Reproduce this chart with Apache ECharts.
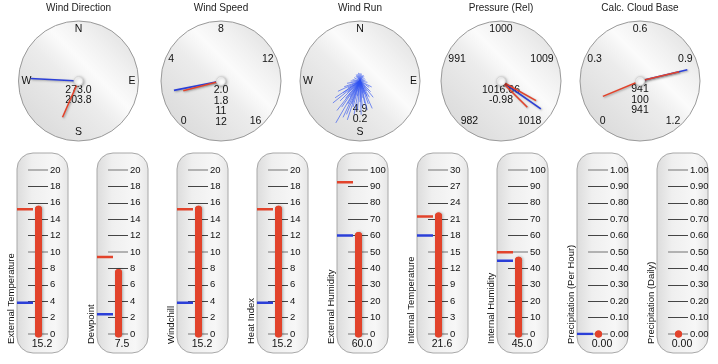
<!DOCTYPE html>
<html><head><meta charset="utf-8">
<script src="https://cdn.jsdelivr.net/npm/echarts@6/dist/echarts.min.js"></script>
<style>html,body{margin:0;padding:0;background:#fff}#c{width:718px;height:364px}</style>
</head><body><div id="c"></div>
<script>
// ---------- data ----------
const dialTitles = ['Wind Direction', 'Wind Speed', 'Wind Run', 'Pressure (Rel)', 'Calc. Cloud Base'];
const compassLabels = ['N', 'E', 'S', 'W'];
const speedTicks = [0, 4, 8, 12, 16];
const pressureTicks = [982, 991, 1000, 1009, 1018];
const cloudTicks = [0, 0.3, 0.6, 0.9, 1.2];

const windDirection = [273.0, 203.8];          // current, average
const windSpeed = [2.0, 1.8, 11, 12];           // current, average, gust, max
const windRunTotals = [4.9, 0.2];
const runBearings = [210, 205, 198, 231, 236, 156, 141, 117, 20, 180, 195, 166, 168, 225, 215, 220, 245, 250, 260, 270,
  190, 185, 175, 160, 150, 135, 125, 100, 80, 200, 212, 228, 240, 172, 162, 145, 300, 330, 350, 10, 40, 60, 280, 202, 208,
  188, 218, 235, 155, 178, 320, 0, 30, 340];
const runSpeeds = [12.9, 10.7, 10.9, 9.3, 8.0, 8.0, 5.6, 3.5, 1.6, 5.6, 7.2, 8.0, 6.1, 7.5, 8.5, 6.0, 6.5, 4.5, 3.5, 2.5,
  9.0, 7.8, 6.8, 6.5, 5.0, 4.0, 3.0, 2.0, 1.5, 6.5, 5.0, 4.5, 3.8, 4.5, 3.5, 3.2, 1.8, 2.0, 2.2, 2.0, 1.6, 1.4, 2.0, 9.6, 7.0,
  4.0, 10.0, 5.5, 4.5, 9.0, 1.7, 2.1, 1.8, 1.9];
const pressure = [1016.66, -0.98];
const pressureMarks = [1015.9, 1018.3];
const cloudBase = [941, 100, 941];              // metres

const thermNames = ['External Temperature', 'Dewpoint', 'Windchill', 'Heat Index', 'External Humidity',
  'Internal Temperature', 'Internal Humidity', 'Precipitation (Per Hour)', 'Precipitation (Daily)'];
const thermValues = [15.2, 7.5, 15.2, 15.2, 60.0, 21.6, 45.0, 0.00, 0.00];
const thermHigh = [15.2, 9.4, 15.2, 15.2, 92.5, 21.5, 49.8, null, null];
const thermLow = [3.8, 2.4, 3.8, 3.8, 60.0, 18.0, 44.7, 0.00, null];
const thermMax = [20, 20, 20, 20, 100, 30, 100, 1, 1];
const thermLabelDigits = [0, 0, 0, 0, 0, 0, 0, 2, 2];
const thermValueDigits = [1, 1, 1, 1, 1, 1, 1, 2, 2];

// ---------- layout / style ----------
const FONT = '"Liberation Sans", Arial, Helvetica, sans-serif';
const RED = '#e2432b', BLUE = '#2b3fd8';
const dialCX = [78.5, 221, 360, 501, 640], dialCY = 81, dialR = 60;
const thermLeft = i => 17 + 80 * i;
const TH_TOP = 153, TH_H = 200, TH_W = 51, SC_TOP = 170, SC_H = 164, SC_W = 31;
const BAR_X = 21.5, MARK_END = 16;

const chart = echarts.init(document.getElementById('c'));
const series = [], graphic = [], grids = [], xAxes = [], yAxes = [];

// dial faces & titles
dialCX.forEach((cx, i) => {
  graphic.push({
    type: 'circle', z: 0, shape: { cx: cx, cy: dialCY, r: dialR },
    style: {
      fill: new echarts.graphic.LinearGradient(0.1, 0.9, 0.9, 0.1, [
        { offset: 0, color: '#dadada' }, { offset: 0.45, color: '#ececec' }, { offset: 0.62, color: '#fbfbfb' },
        { offset: 0.8, color: '#f0f0f0' }, { offset: 1, color: '#e2e2e2' }]),
      stroke: '#9a9a9a', lineWidth: 1
    }
  });
  graphic.push({
    type: 'text', z: 1, x: cx, y: 8,
    style: { text: dialTitles[i], font: '10px ' + FONT, fill: '#222', align: 'center', verticalAlign: 'middle' }
  });
});

function face(i, min, max, start, end, fmt, lines, off) {
  return {
    type: 'gauge', center: [dialCX[i], dialCY], radius: dialR, startAngle: start, endAngle: end,
    min: min, max: max, splitNumber: 4, animation: false, silent: true,
    axisLine: { show: false, lineStyle: { width: 0 } }, axisTick: { show: false },
    splitLine: { show: false, length: 0, distance: 0 }, progress: { show: false },
    pointer: { show: false }, anchor: { show: false }, title: { show: false },
    axisLabel: { show: true, distance: 3, fontSize: 10.5, fontFamily: FONT, color: '#111', formatter: fmt },
    detail: {
      show: true, offsetCenter: [0, off], fontSize: 10.5, fontFamily: FONT, color: '#111', lineHeight: 10.5,
      fontWeight: 'normal', formatter: () => lines.join('\n')
    },
    data: [{ value: min }]
  };
}
function needle(i, min, max, start, end, value, color, len, hub) {
  return {
    type: 'gauge', center: [dialCX[i], dialCY], radius: dialR, startAngle: start, endAngle: end,
    min: min, max: max, animation: false, silent: true,
    axisLine: { show: false, lineStyle: { width: 0 } }, axisTick: { show: false }, splitLine: { show: false },
    axisLabel: { show: false }, title: { show: false }, detail: { show: false }, progress: { show: false },
    pointer: { show: true, icon: 'rect', width: 1.6, length: len, offsetCenter: [0, 0] },
    itemStyle: { color: color, shadowBlur: 2, shadowColor: 'rgba(0,0,0,0.3)', shadowOffsetX: 1, shadowOffsetY: 1 },
    anchor: hub ? {
      show: true, showAbove: true, size: 9, itemStyle: {
        color: '#fbfbfb', borderColor: '#d6d6d6', borderWidth: 1,
        shadowBlur: 3, shadowColor: 'rgba(0,0,0,0.3)', shadowOffsetX: 1, shadowOffsetY: 1
      }
    } : { show: false },
    data: [{ value: value }]
  };
}

// Wind direction
const compassFmt = v => v === 360 ? '' : compassLabels[Math.round(v / 90)];
series.push(face(0, 0, 360, 90, -270, compassFmt, windDirection.map(v => v.toFixed(1)), 14));
series.push(needle(0, 0, 360, 90, -270, windDirection[0], BLUE, '80%', false));
series.push(needle(0, 0, 360, 90, -270, windDirection[1], RED, '66%', true));
// Wind speed
series.push(face(1, speedTicks[0], speedTicks[4], 225, -45, v => String(v),
  [windSpeed[0].toFixed(1), windSpeed[1].toFixed(1), String(windSpeed[2]), String(windSpeed[3])], 25));
series.push(needle(1, speedTicks[0], speedTicks[4], 225, -45, windSpeed[0], BLUE, '80%', false));
series.push(needle(1, speedTicks[0], speedTicks[4], 225, -45, windSpeed[1], RED, '65%', true));
// Wind run
series.push(face(2, 0, 360, 90, -270, compassFmt, windRunTotals.map(v => v.toFixed(1)), 33));
// Pressure
series.push(face(3, pressureTicks[0], pressureTicks[4], 225, -45, v => String(v),
  [pressure[0].toFixed(2), pressure[1].toFixed(2)], 14));
series.push(needle(3, pressureTicks[0], pressureTicks[4], 225, -45, pressure[0], BLUE, '81%', false));
series.push(needle(3, pressureTicks[0], pressureTicks[4], 225, -45, pressureMarks[0], RED, '67%', false));
series.push(needle(3, pressureTicks[0], pressureTicks[4], 225, -45, pressureMarks[1], RED, '62%', true));
// Cloud base (axis in km, values in m)
series.push(face(4, cloudTicks[0], cloudTicks[4], 225, -45, v => v.toFixed(1).replace(/^0\.0$/, '0'),
  cloudBase.map(v => String(v)), 19));
series.push(needle(4, cloudTicks[0], cloudTicks[4], 225, -45, cloudBase[0] / 1000, BLUE, '81%', false));
series.push(needle(4, cloudTicks[0], cloudTicks[4], 225, -45, cloudBase[1] / 1000, RED, '67%', false));
series.push(needle(4, cloudTicks[0], cloudTicks[4], 225, -45, cloudBase[2] / 1000, RED, '67%', true));

// Wind run spokes (polar)
const polar = { center: [dialCX[2], dialCY], radius: dialR };
const angleAxis = { type: 'value', min: 0, max: 360, startAngle: 90, clockwise: true, show: false };
const radiusAxis = { type: 'value', min: 0, max: 16, show: false };
series.push({
  type: 'custom', coordinateSystem: 'polar', silent: true, animation: false, z: 3,
  data: runBearings.map((b, k) => [runSpeeds[k], b]),
  renderItem: (params, api) => {
    const p0 = api.coord([0, api.value(1)]);
    const p1 = api.coord([api.value(0), api.value(1)]);
    return {
      type: 'line', shape: { x1: p0[0], y1: p0[1], x2: p1[0], y2: p1[1] },
      style: { stroke: 'rgba(45,80,240,0.7)', lineWidth: 0.9 }
    };
  }
});

// thermometers
thermNames.forEach((name, i) => {
  const L = thermLeft(i), M = thermMax[i];
  graphic.push({
    type: 'rect', z: 0, shape: { x: L, y: TH_TOP, width: TH_W, height: TH_H, r: 16 },
    style: {
      fill: new echarts.graphic.LinearGradient(0, 0, 1, 0, [
        { offset: 0, color: '#dcdcdc' }, { offset: 0.3, color: '#efefef' }, { offset: 0.75, color: '#f7f7f7' },
        { offset: 1, color: '#e6e6e6' }]),
      stroke: '#a8a8a8', lineWidth: 1
    }
  });
  graphic.push({
    type: 'text', z: 1, x: L + 25, y: 344,
    style: { text: thermValues[i].toFixed(thermValueDigits[i]), font: '10.5px ' + FONT, fill: '#111', align: 'center', verticalAlign: 'middle' }
  });
  graphic.push({
    type: 'text', z: 1, x: L - 6, y: 344, rotation: Math.PI / 2,
    style: { text: name, font: '9.5px ' + FONT, fill: '#111', align: 'left', verticalAlign: 'middle' }
  });
  grids.push({ left: L, top: SC_TOP, width: SC_W, height: SC_H, containLabel: false });
  xAxes.push({ type: 'value', gridIndex: i, min: 0, max: SC_W, show: false });
  yAxes.push({
    type: 'value', gridIndex: i, position: 'right', min: 0, max: M, interval: M / 10,
    axisLine: { show: false, onZero: false }, splitLine: { show: false },
    axisTick: { show: true, inside: true, length: 20, lineStyle: { color: '#444', width: 1 } },
    axisLabel: { margin: 2, fontSize: 9.5, fontFamily: FONT, color: '#111', formatter: v => v.toFixed(thermLabelDigits[i]) }
  });
  yAxes.push({
    type: 'value', gridIndex: i, position: 'right', min: 0, max: M, interval: M / 2,
    axisLine: { show: false, onZero: false }, splitLine: { show: false }, axisLabel: { show: false },
    axisTick: { show: true, inside: true, length: 20, lineStyle: { color: '#b2b2b2', width: 2 } }
  });
  series.push({
    type: 'line', xAxisIndex: i, yAxisIndex: 2 * i, silent: true, animation: false, z: 4,
    data: [[BAR_X, 0], [BAR_X, thermValues[i]]], symbol: 'circle', symbolSize: 7, showSymbol: true,
    itemStyle: { color: RED },
    lineStyle: { color: RED, width: 7, cap: 'round', shadowBlur: 3, shadowColor: 'rgba(0,0,0,0.3)', shadowOffsetX: 1 }
  });
  if (thermHigh[i] !== null) series.push({
    type: 'line', xAxisIndex: i, yAxisIndex: 2 * i, silent: true, animation: false, z: 3,
    data: [[0, thermHigh[i]], [MARK_END, thermHigh[i]]], showSymbol: false, symbol: 'none',
    lineStyle: { color: RED, width: 2.5 }
  });
  if (thermLow[i] !== null) series.push({
    type: 'line', xAxisIndex: i, yAxisIndex: 2 * i, silent: true, animation: false, z: 3,
    data: [[0, thermLow[i]], [MARK_END, thermLow[i]]], showSymbol: false, symbol: 'none',
    lineStyle: { color: BLUE, width: 2.5 }
  });
});

chart.setOption({
  animation: false,
  backgroundColor: '#fff',
  textStyle: { fontFamily: FONT },
  polar: polar, angleAxis: angleAxis, radiusAxis: radiusAxis,
  grid: grids, xAxis: xAxes, yAxis: yAxes,
  graphic: { elements: graphic },
  series: series
});
</script></body></html>
